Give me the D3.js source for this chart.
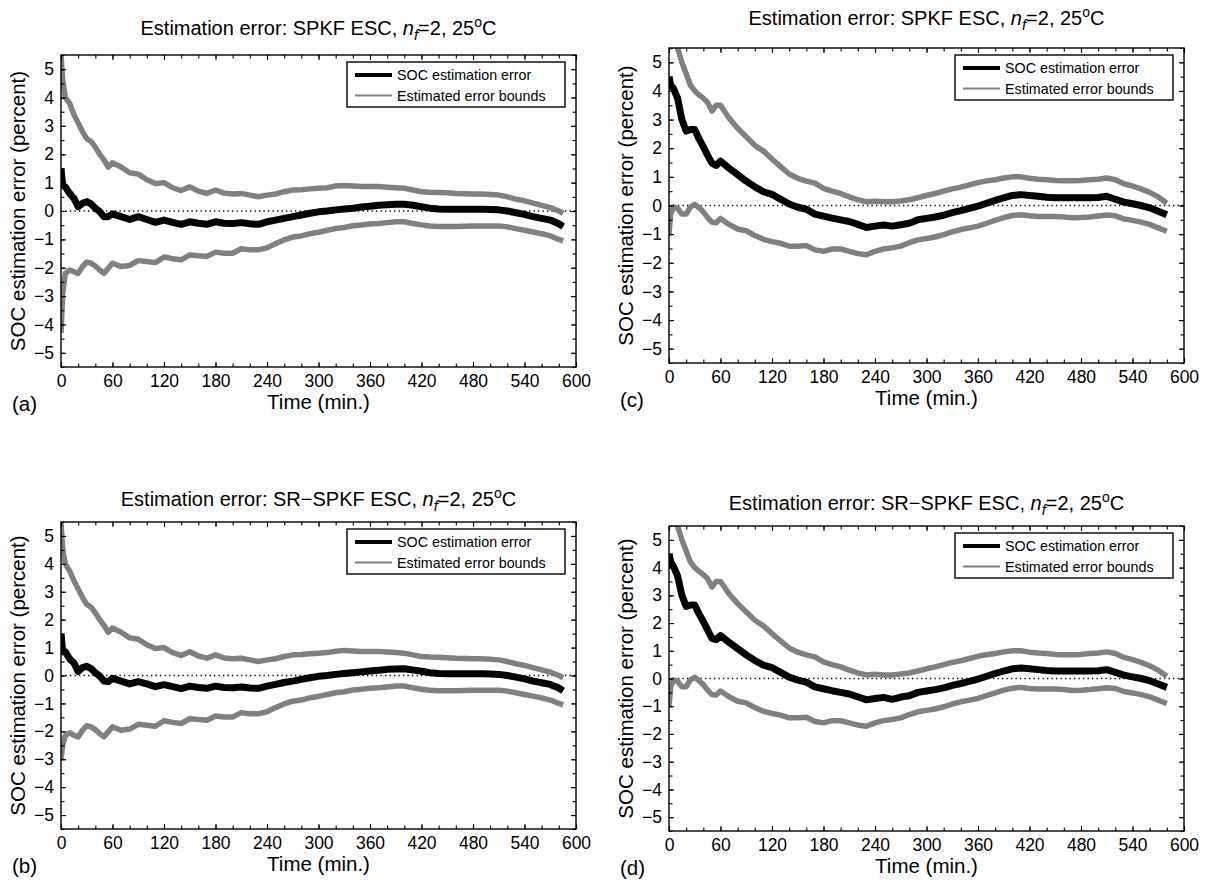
<!DOCTYPE html>
<html><head><meta charset="utf-8">
<script src="https://cdn.jsdelivr.net/npm/d3@7"></script>
<style>
html,body{margin:0;padding:0;background:#fff;}
svg{display:block;font-family:"Liberation Sans",Arial,Helvetica,sans-serif;}
</style></head><body>
<svg id="chart" width="1205" height="880"></svg>
<script>
// ---------------- data (minutes, percent) ----------------
const timesAB = [0,2,5,10,15,20,25,30,35,40,45,50,55,60,
  70,80,90,100,110,120,130,140,150,160,
  170,180,190,200,210,220,230,240,250,260,
  270,280,290,300,310,320,330,340,350,360,
  370,380,390,400,410,420,430,440,450,460,
  470,480,490,500,510,520,530,540,550,560,
  570,580,585];
const timesCD = [0,2,5,10,15,20,25,30,35,40,45,50,55,60,
  70,80,90,100,110,120,130,140,150,160,
  170,180,190,200,210,220,230,240,250,260,
  270,280,290,300,310,320,330,340,350,360,
  370,380,390,400,410,420,430,440,450,460,
  470,480,490,500,510,520,530,540,550,560,
  570,580];

// (a) SPKF ESC
const errA = [1.5,0.9,0.85,0.62,0.45,0.15,0.27,0.33,0.25,0.1,-0.02,-0.2,-0.2,-0.1,
  -0.2,-0.3,-0.2,-0.3,-0.4,-0.32,-0.4,-0.47,-0.38,-0.43,
  -0.47,-0.38,-0.43,-0.44,-0.41,-0.45,-0.47,-0.38,-0.32,-0.26,
  -0.2,-0.14,-0.08,-0.03,0.0,0.04,0.07,0.1,0.14,0.17,
  0.2,0.22,0.24,0.24,0.2,0.15,0.1,0.07,0.06,0.06,
  0.06,0.06,0.06,0.05,0.04,0.0,-0.06,-0.12,-0.2,-0.26,
  -0.32,-0.45,-0.55];
const upA = [5.5,4.6,4.0,3.8,3.4,3.1,2.8,2.55,2.45,2.25,2.0,1.8,1.55,1.7,
  1.55,1.35,1.3,1.1,0.97,1.0,0.82,0.72,0.85,0.7,
  0.62,0.74,0.63,0.6,0.62,0.56,0.5,0.56,0.6,0.68,
  0.74,0.75,0.78,0.8,0.82,0.88,0.9,0.88,0.86,0.86,
  0.86,0.84,0.82,0.8,0.74,0.68,0.66,0.65,0.64,0.62,
  0.61,0.6,0.6,0.58,0.56,0.5,0.42,0.36,0.28,0.2,
  0.12,0.0,-0.08];
const loA = [-4.3,-2.9,-2.2,-2.08,-2.14,-2.2,-1.96,-1.8,-1.84,-1.94,-2.08,-2.2,-2.02,-1.84,
  -1.96,-1.92,-1.75,-1.78,-1.82,-1.62,-1.68,-1.72,-1.55,-1.58,
  -1.6,-1.45,-1.49,-1.49,-1.33,-1.37,-1.37,-1.3,-1.15,-1.02,
  -0.92,-0.88,-0.8,-0.75,-0.68,-0.62,-0.58,-0.52,-0.49,-0.46,
  -0.44,-0.41,-0.38,-0.38,-0.44,-0.49,-0.53,-0.55,-0.55,-0.55,
  -0.54,-0.53,-0.53,-0.53,-0.53,-0.56,-0.62,-0.68,-0.74,-0.8,
  -0.88,-1.0,-1.05];

// (b) SR-SPKF ESC
const errB = [1.5,0.85,0.85,0.6,0.45,0.15,0.28,0.33,0.25,0.1,-0.02,-0.2,-0.22,-0.1,
  -0.2,-0.3,-0.22,-0.3,-0.4,-0.33,-0.4,-0.47,-0.38,-0.43,
  -0.46,-0.38,-0.43,-0.44,-0.41,-0.45,-0.46,-0.38,-0.32,-0.25,
  -0.2,-0.14,-0.08,-0.03,0.0,0.04,0.07,0.1,0.13,0.16,
  0.19,0.22,0.23,0.24,0.2,0.15,0.1,0.07,0.06,0.06,
  0.06,0.06,0.06,0.05,0.04,0.0,-0.06,-0.12,-0.2,-0.26,
  -0.32,-0.45,-0.55];
const upB = [5.5,4.5,4.0,3.75,3.4,3.1,2.8,2.55,2.45,2.25,2.0,1.8,1.55,1.7,
  1.55,1.35,1.3,1.1,0.97,1.0,0.82,0.72,0.85,0.7,
  0.62,0.74,0.63,0.6,0.62,0.56,0.5,0.56,0.6,0.68,
  0.74,0.75,0.78,0.8,0.82,0.87,0.9,0.88,0.86,0.86,
  0.86,0.84,0.82,0.8,0.74,0.68,0.66,0.65,0.64,0.62,
  0.61,0.6,0.6,0.58,0.56,0.5,0.42,0.36,0.28,0.2,
  0.12,0.0,-0.08];
const loB = [-3.0,-2.5,-2.15,-2.05,-2.14,-2.2,-1.96,-1.8,-1.84,-1.94,-2.08,-2.2,-2.02,-1.84,
  -1.96,-1.92,-1.75,-1.78,-1.82,-1.62,-1.68,-1.72,-1.55,-1.58,
  -1.6,-1.45,-1.49,-1.49,-1.33,-1.37,-1.37,-1.3,-1.15,-1.02,
  -0.92,-0.88,-0.8,-0.75,-0.68,-0.62,-0.58,-0.52,-0.49,-0.46,
  -0.44,-0.41,-0.38,-0.38,-0.44,-0.49,-0.53,-0.55,-0.55,-0.55,
  -0.54,-0.53,-0.53,-0.53,-0.53,-0.56,-0.62,-0.68,-0.74,-0.8,
  -0.88,-1.0,-1.05];

// (c) SPKF ESC
const errC = [4.5,4.2,4.1,3.75,3.0,2.6,2.65,2.65,2.33,2.05,1.75,1.48,1.4,1.55,
  1.3,1.08,0.85,0.65,0.48,0.39,0.22,0.05,-0.06,-0.13,
  -0.3,-0.37,-0.44,-0.5,-0.56,-0.66,-0.77,-0.72,-0.68,-0.72,
  -0.67,-0.62,-0.5,-0.45,-0.4,-0.34,-0.25,-0.18,-0.1,-0.02,
  0.08,0.18,0.27,0.35,0.38,0.35,0.32,0.29,0.27,0.27,
  0.27,0.27,0.27,0.28,0.32,0.22,0.12,0.06,0.0,-0.08,
  -0.2,-0.32];
const upC = [7.2,6.8,6.2,5.5,5.0,4.6,4.2,4.0,3.86,3.75,3.6,3.3,3.5,3.5,
  3.05,2.7,2.4,2.1,1.9,1.62,1.36,1.1,0.95,0.85,
  0.78,0.6,0.5,0.42,0.3,0.2,0.13,0.15,0.13,0.13,
  0.16,0.2,0.27,0.35,0.42,0.5,0.58,0.64,0.72,0.8,
  0.86,0.9,0.96,1.0,1.0,0.95,0.92,0.9,0.87,0.86,
  0.86,0.87,0.9,0.92,0.96,0.9,0.76,0.68,0.58,0.46,
  0.3,0.08];
const loC = [-1.0,-0.3,-0.05,-0.1,-0.3,-0.3,-0.05,0.04,-0.08,-0.22,-0.42,-0.58,-0.6,-0.45,
  -0.66,-0.82,-0.88,-1.05,-1.18,-1.26,-1.32,-1.42,-1.42,-1.4,
  -1.55,-1.6,-1.52,-1.52,-1.6,-1.68,-1.72,-1.6,-1.52,-1.48,
  -1.42,-1.3,-1.2,-1.15,-1.1,-1.02,-0.92,-0.84,-0.78,-0.72,
  -0.62,-0.52,-0.42,-0.35,-0.32,-0.36,-0.38,-0.38,-0.38,-0.4,
  -0.43,-0.42,-0.4,-0.37,-0.33,-0.36,-0.47,-0.52,-0.58,-0.66,
  -0.78,-0.9];

// (d) SR-SPKF ESC
const errD = [4.5,4.2,4.05,3.7,3.0,2.6,2.65,2.65,2.33,2.05,1.75,1.45,1.4,1.55,
  1.3,1.08,0.85,0.65,0.48,0.39,0.22,0.05,-0.06,-0.13,
  -0.3,-0.37,-0.44,-0.5,-0.56,-0.66,-0.77,-0.72,-0.68,-0.75,
  -0.67,-0.62,-0.5,-0.45,-0.4,-0.34,-0.25,-0.18,-0.1,-0.02,
  0.08,0.18,0.27,0.35,0.38,0.35,0.32,0.29,0.27,0.27,
  0.27,0.27,0.27,0.28,0.32,0.22,0.12,0.06,0.0,-0.08,
  -0.2,-0.32];
const upD = [7.2,6.8,6.2,5.5,5.0,4.6,4.2,4.0,3.86,3.75,3.6,3.3,3.5,3.5,
  3.05,2.7,2.4,2.1,1.9,1.62,1.36,1.1,0.95,0.85,
  0.78,0.6,0.5,0.42,0.3,0.2,0.13,0.15,0.13,0.13,
  0.16,0.2,0.27,0.35,0.42,0.5,0.58,0.64,0.72,0.8,
  0.86,0.9,0.96,1.0,1.0,0.95,0.92,0.9,0.87,0.86,
  0.86,0.87,0.9,0.92,0.96,0.9,0.76,0.68,0.58,0.46,
  0.3,0.08];
const loD = [-1.0,-0.3,-0.05,-0.1,-0.3,-0.3,-0.05,0.04,-0.08,-0.22,-0.42,-0.58,-0.6,-0.45,
  -0.66,-0.82,-0.88,-1.05,-1.18,-1.26,-1.32,-1.42,-1.42,-1.4,
  -1.55,-1.6,-1.52,-1.52,-1.6,-1.68,-1.72,-1.6,-1.52,-1.48,
  -1.42,-1.3,-1.2,-1.15,-1.1,-1.02,-0.92,-0.84,-0.78,-0.72,
  -0.62,-0.52,-0.42,-0.35,-0.32,-0.36,-0.38,-0.38,-0.38,-0.4,
  -0.43,-0.42,-0.4,-0.37,-0.33,-0.36,-0.47,-0.52,-0.58,-0.66,
  -0.78,-0.9];

const xTicks = [0,60,120,180,240,300,360,420,480,540,600];
const xMinor = d3.range(0, 601, 20);
const yTicks = [-5,-4,-3,-2,-1,0,1,2,3,4,5];
const yMinor = d3.range(-5.5, 5.51, 0.5);
const legendLabels = ["SOC estimation error", "Estimated error bounds"];
const xLabel = "Time (min.)";
const yLabel = "SOC estimation error (percent)";
const methods = ["SPKF ESC", "SR\u2212SPKF ESC"];

// ---------------- layout ----------------
const panels = [
  {tag:"(a)", method:methods[0], t:timesAB, err:errA, up:upA, lo:loA, L:61,  R:576,  T:55,  B:367, titleY:35},
  {tag:"(c)", method:methods[0], t:timesCD, err:errC, up:upC, lo:loC, L:669, R:1184, T:48,  B:363, titleY:25},
  {tag:"(b)", method:methods[1], t:timesAB, err:errB, up:upB, lo:loB, L:61,  R:576,  T:522, B:829, titleY:506},
  {tag:"(d)", method:methods[1], t:timesCD, err:errD, up:upD, lo:loD, L:669, R:1184, T:526, B:831, titleY:510}
];

const svg = d3.select("#chart");
const GRAY = "#808080";

panels.forEach((p, i) => {
  const x = d3.scaleLinear().domain([0, 600]).range([p.L, p.R]);
  const y = d3.scaleLinear().domain([-5.5, 5.5]).range([p.B, p.T]);
  const g = svg.append("g");
  const clipId = "clip" + i;
  g.append("clipPath").attr("id", clipId).append("rect")
    .attr("x", p.L).attr("y", p.T).attr("width", p.R - p.L).attr("height", p.B - p.T);

  // zero dotted line
  g.append("line").attr("x1", p.L).attr("x2", p.R).attr("y1", y(0)).attr("y2", y(0))
    .attr("stroke", "#000").attr("stroke-width", 1.3).attr("stroke-dasharray", "1.3,3.2");

  const line = d3.line().x((d) => x(d[0])).y((d) => y(d[1]));
  const plot = g.append("g").attr("clip-path", `url(#${clipId})`);
  [p.up, p.lo].forEach(arr => {
    plot.append("path").datum(p.t.map((t, k) => [t, arr[k]]))
      .attr("d", line).attr("fill", "none").attr("stroke", GRAY)
      .attr("stroke-width", 5.5).attr("stroke-linejoin", "round");
  });
  plot.append("path").datum(p.t.map((t, k) => [t, p.err[k]]))
    .attr("d", line).attr("fill", "none").attr("stroke", "#000")
    .attr("stroke-width", 7).attr("stroke-linejoin", "round");

  // axes
  const fs = 17.5;
  const bottom = g.append("g").attr("transform", `translate(0,${p.B})`)
    .call(d3.axisBottom(x).tickValues(xTicks).tickSizeInner(-5).tickSizeOuter(0).tickPadding(8).tickFormat(d3.format("d")));
  const bottomMinor = g.append("g").attr("transform", `translate(0,${p.B})`)
    .call(d3.axisBottom(x).tickValues(xMinor).tickSizeInner(-3.5).tickSizeOuter(0).tickFormat(""));
  const top = g.append("g").attr("transform", `translate(0,${p.T})`)
    .call(d3.axisTop(x).tickValues(xTicks).tickSizeInner(-5).tickSizeOuter(0).tickFormat(""));
  const topMinor = g.append("g").attr("transform", `translate(0,${p.T})`)
    .call(d3.axisTop(x).tickValues(xMinor).tickSizeInner(-3.5).tickSizeOuter(0).tickFormat(""));
  const left = g.append("g").attr("transform", `translate(${p.L},0)`)
    .call(d3.axisLeft(y).tickValues(yTicks).tickSizeInner(-5).tickSizeOuter(0).tickPadding(7).tickFormat(d3.format("d")));
  const leftMinor = g.append("g").attr("transform", `translate(${p.L},0)`)
    .call(d3.axisLeft(y).tickValues(yMinor).tickSizeInner(-3.5).tickSizeOuter(0).tickFormat(""));
  const right = g.append("g").attr("transform", `translate(${p.R},0)`)
    .call(d3.axisRight(y).tickValues(yTicks).tickSizeInner(-5).tickSizeOuter(0).tickFormat(""));
  const rightMinor = g.append("g").attr("transform", `translate(${p.R},0)`)
    .call(d3.axisRight(y).tickValues(yMinor).tickSizeInner(-3.5).tickSizeOuter(0).tickFormat(""));
  [bottom, bottomMinor, top, topMinor, left, leftMinor, right, rightMinor].forEach(a => {
    a.select(".domain").remove();
    a.selectAll("line").attr("stroke", "#000").attr("stroke-width", 1.1);
    a.selectAll("text").attr("font-size", fs).attr("fill", "#000")
      .attr("font-family", '"Liberation Sans",Arial,sans-serif');
  });

  // box
  g.append("rect").attr("x", p.L).attr("y", p.T).attr("width", p.R - p.L).attr("height", p.B - p.T)
    .attr("fill", "none").attr("stroke", "#000").attr("stroke-width", 1.4);

  // legend
  const lw = 218, lh = 45;
  const lx = p.R - 11 - lw, ly = p.T + 7;
  const lg = g.append("g");
  lg.append("rect").attr("x", lx).attr("y", ly).attr("width", lw).attr("height", lh)
    .attr("fill", "#fff").attr("stroke", "#000").attr("stroke-width", 1.4);
  [["#000", 3.8], [GRAY, 2]].forEach((s, k) => {
    const yy = ly + 13 + k * 20.5;
    lg.append("line").attr("x1", lx + 8).attr("x2", lx + 45).attr("y1", yy).attr("y2", yy)
      .attr("stroke", s[0]).attr("stroke-width", s[1]);
    lg.append("text").attr("x", lx + 50).attr("y", yy + 5).attr("font-size", 14.3)
      .text(legendLabels[k]);
  });

  // title
  const cx = (p.L + p.R) / 2;
  const tt = g.append("text").attr("x", cx).attr("y", p.titleY).attr("text-anchor", "middle")
    .attr("font-size", 20);
  tt.append("tspan").text("Estimation error: " + p.method + ", ");
  tt.append("tspan").attr("font-style", "italic").text("n");
  tt.append("tspan").attr("font-style", "italic").attr("font-size", 15).attr("dy", 5).text("f");
  tt.append("tspan").attr("dy", -5).text("=2, 25");
  tt.append("tspan").attr("font-size", 14).attr("dy", -8).text("o");
  tt.append("tspan").attr("dy", 8).text("C");

  // axis labels
  const labY = Math.min(p.B + 42, 873);
  g.append("text").attr("x", cx).attr("y", labY).attr("text-anchor", "middle")
    .attr("font-size", 20.5).text(xLabel);
  g.append("text").attr("transform", `translate(${p.L - 36},${(p.T + p.B) / 2}) rotate(-90)`)
    .attr("text-anchor", "middle").attr("font-size", 20.5).text(yLabel);
  g.append("text").attr("x", p.L - 49).attr("y", labY + 2).attr("font-size", 20.5).text(p.tag);
});
</script>
</body></html>
